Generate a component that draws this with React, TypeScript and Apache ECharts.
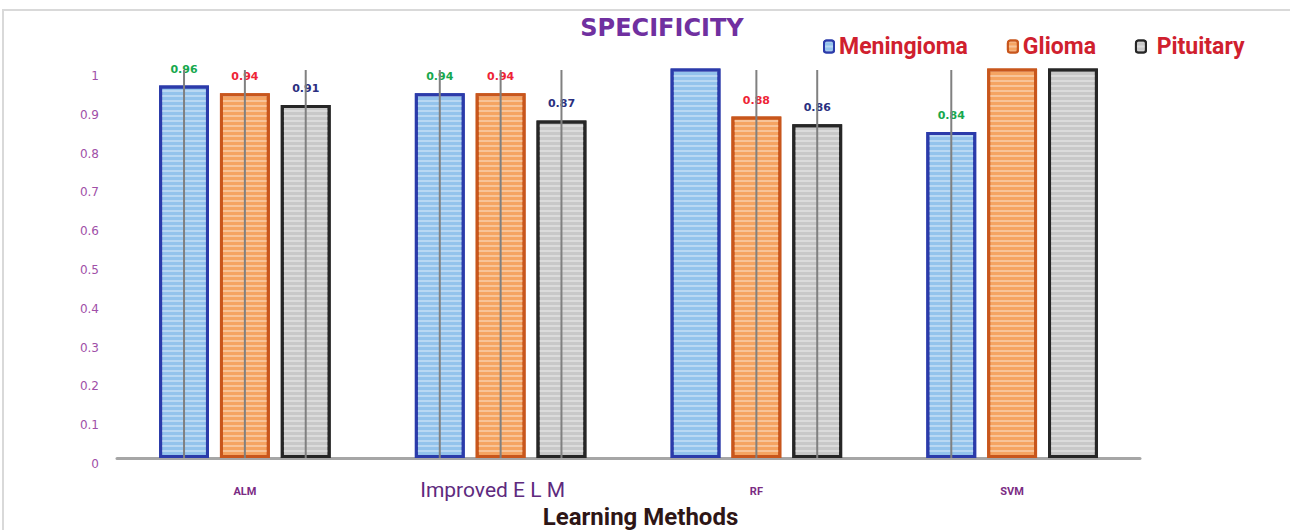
import React, { useEffect, useRef } from "react";
import * as echarts from "echarts";

const categories = ["ALM", "Improved E L M", "RF", "SVM"];
const seriesNames = ["Meningioma", "Glioma", " Pituitary"];
const meningioma = [0.96, 0.94, 1.02, 0.84];
const glioma = [0.94, 0.94, 0.88, 1.02];
const pituitary = [0.91, 0.87, 0.86, 1.02];
// error magnitudes (0 = no visible error bar)
const errMeningioma = [1, 1, 0, 1];
const errGlioma = [1, 1, 1, 0];
const errPituitary = [1, 1, 1, 0];
const yTicks = { min: 0, max: 1, interval: 0.1 };

const fills = ["#93C3EC", "#F5A462", "#C8C8C8"];
const borders = ["#2B3BAA", "#C8561C", "#262626"];
const labelColors = ["#17A84E", "#EE2436", "#2B2F80"];

const BAR_W = 0.195;
const BAR_GAP = 0.22;

export default function App() {
  const ref = useRef<HTMLDivElement>(null);
  useEffect(() => {
    if (!ref.current) return;
    const chart = echarts.init(ref.current, null, { renderer: "svg" });
    const values = [meningioma, glioma, pituitary];
    const errs = [errMeningioma, errGlioma, errPituitary];
    const errData: number[][] = [];
    values.forEach((arr, s) => {
      arr.forEach((v, c) => {
        const e = errs[s][c];
        if (e > 0) {
          errData.push([c, s, Math.max(0, v - e), Math.min(yTicks.max, v + e)]);
        }
      });
    });
    const barSeries = values.map((arr, s) => ({
      name: seriesNames[s],
      type: "bar",
      barWidth: (BAR_W * 100).toFixed(1) + "%",
      barGap: BAR_GAP * 100 + "%",
      clip: true,
      data: arr.map((v) => ({
        value: v,
        label: { show: v <= yTicks.max },
      })),
      itemStyle: {
        color: fills[s],
        borderColor: borders[s],
        borderWidth: 3,
        decal: {
          symbol: "rect",
          symbolSize: 1,
          dashArrayX: [1, 0],
          dashArrayY: [2, 3],
          rotation: 0,
          color: "rgba(255,255,255,0.35)",
        },
      },
      label: {
        show: true,
        position: "top",
        distance: 11,
        color: labelColors[s],
        fontSize: 11,
        fontWeight: "bold",
        fontFamily: "DejaVu Sans",
      },
      z: 2,
    }));
    chart.setOption({
      animation: false,
      backgroundColor: "#ffffff",
      graphic: [
        {
          type: "rect",
          shape: { x: 3, y: 10, width: 1400, height: 700 },
          style: { fill: "none", stroke: "#D9D9D9", lineWidth: 2 },
          silent: true,
        },
      ],
      title: {
        text: "SPECIFICITY",
        left: 657,
        textAlign: "center",
        top: 11,
        textStyle: {
          color: "#7030A0",
          fontSize: 24,
          fontWeight: "bold",
          fontFamily: "DejaVu Sans",
        },
      },
      legend: {
        left: 818,
        top: 30,
        itemWidth: 10,
        itemHeight: 12,
        itemGap: 39,
        textStyle: {
          color: "#D0202E",
          fontSize: 23,
          fontWeight: "bold",
          fontFamily: "Roboto",
        },
        data: seriesNames,
      },
      grid: {
        left: 117,
        right: 150,
        top: 70,
        bottom: 72,
        containLabel: false,
        outerBoundsMode: "none",
      },
      xAxis: {
        type: "category",
        data: [
          { value: categories[0], textStyle: { fontSize: 11, fontWeight: "bold", padding: [7, 0, 0, 0] } },
          { value: categories[1], textStyle: { fontSize: 21, fontWeight: "normal", padding: [0, 16, 0, 0], color: "#5E2A7E" } },
          { value: categories[2], textStyle: { fontSize: 11, fontWeight: "bold", padding: [7, 0, 0, 0] } },
          { value: categories[3], textStyle: { fontSize: 11, fontWeight: "bold", padding: [7, 0, 0, 0] } },
        ],
        axisLine: { lineStyle: { color: "#A6A6A6", width: 3 } },
        axisTick: { show: false },
        axisLabel: {
          color: "#7B2C83",
          margin: 21,
          fontFamily: "Roboto",
        },
        name: "Learning Methods",
        nameLocation: "middle",
        nameGap: 40,
        nameTextStyle: {
          color: "#2E1616",
          fontSize: 24,
          fontWeight: "bold",
          fontFamily: "Roboto",
          padding: [0, 0, 0, 24],
        },
      },
      yAxis: {
        type: "value",
        min: yTicks.min,
        max: yTicks.max,
        interval: yTicks.interval,
        axisLine: { show: false },
        axisTick: { show: false },
        splitLine: { show: false },
        axisLabel: {
          color: "#A04FA8",
          fontSize: 12,
          margin: 18,
          verticalAlign: "top",
          fontFamily: "DejaVu Sans",
        },
      },
      series: [
        ...barSeries,
        {
          type: "custom",
          name: "err",
          data: errData,
          encode: { x: 0, y: [2, 3] },
          z: 3,
          renderItem: (params: any, api: any) => {
            const c = api.value(0);
            const s = api.value(1);
            const lo = api.value(2);
            const hi = api.value(3);
            const band = api.size([1, 0])[0];
            const bw = band * BAR_W;
            const gap = bw * BAR_GAP;
            const off = (s - 1) * (bw + gap);
            const p1 = api.coord([c, lo]);
            const p2 = api.coord([c, hi]);
            return {
              type: "line",
              shape: { x1: p1[0] + off, y1: p1[1], x2: p2[0] + off, y2: p2[1] },
              style: { stroke: "#808080", lineWidth: 2 },
            };
          },
        },
      ],
    });
    return () => chart.dispose();
  }, []);
  return (
    <div
      ref={ref}
      style={{ position: "absolute", left: 0, top: 0, width: 1290, height: 530 }}
    />
  );
}
